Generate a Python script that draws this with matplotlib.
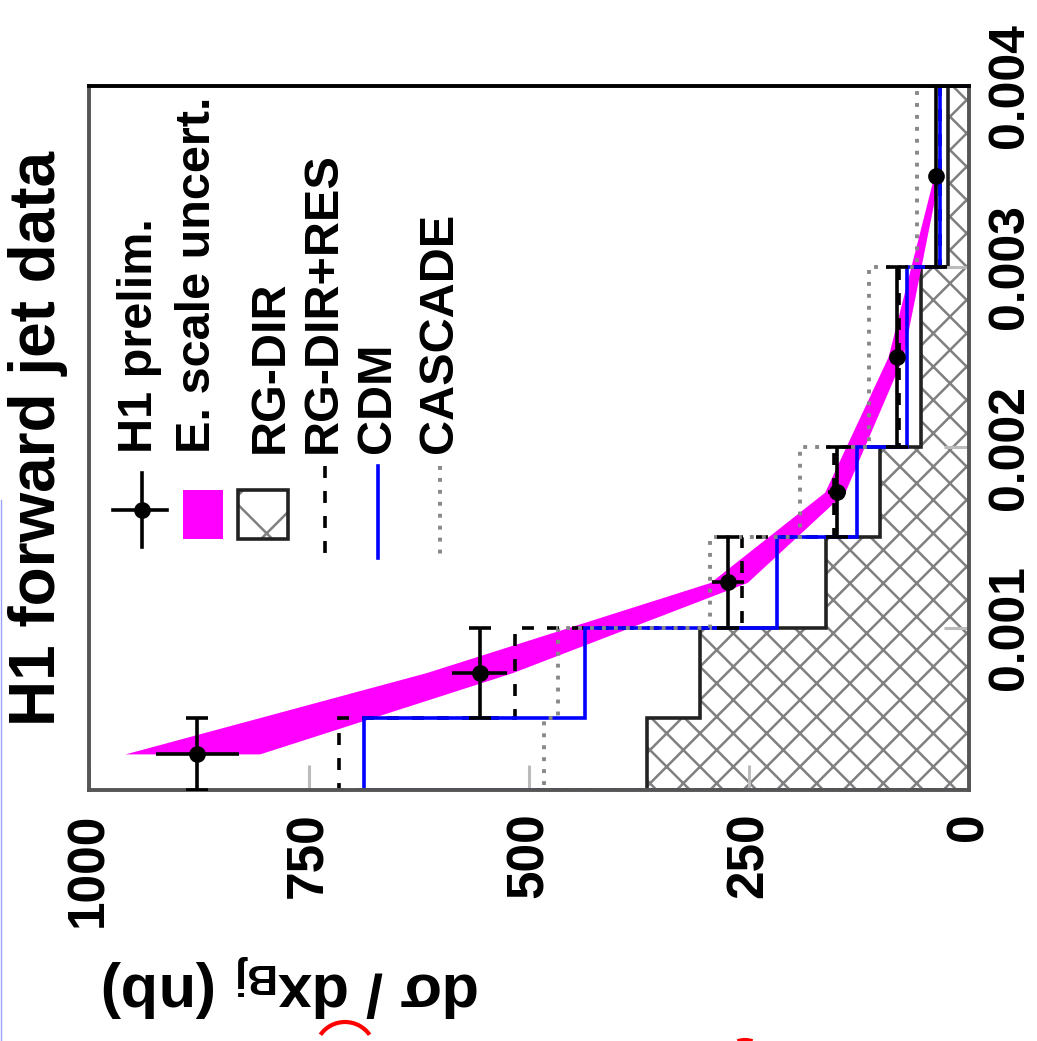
import matplotlib
matplotlib.use("Agg")
import matplotlib.pyplot as plt
from matplotlib.patches import Rectangle, Arc
from matplotlib.lines import Line2D
import numpy as np

plt.rcParams['font.family'] = ['Liberation Sans', 'DejaVu Sans']
plt.rcParams['font.weight'] = 'bold'
plt.rcParams['mathtext.fontset'] = 'custom'
plt.rcParams['mathtext.rm'] = 'Liberation Sans:bold'
plt.rcParams['mathtext.it'] = 'Liberation Sans:bold'
plt.rcParams['mathtext.bf'] = 'Liberation Sans:bold'
plt.rcParams['hatch.linewidth'] = 0.9
plt.rcParams['lines.scale_dashes'] = False

# x_Bj binning (drawn on the vertical axis, the chart is turned on its side)
xbj_edges = [0.0001, 0.0005, 0.001, 0.0015, 0.002, 0.003, 0.004]
xbj_centers = [0.0003, 0.00075, 0.00125, 0.00175, 0.0025, 0.0035]

# dsigma/dx_Bj in nb
h1_data = [877, 556, 274, 150, 82, 37]
h1_stat = [47, 31, 18, 10, 6, 4]
escale_lo = [806, 519, 252, 141, 75, 34]
escale_hi = [959, 617, 294, 164, 92, 40]
rg_dir = [366, 306, 163, 101, 55, 24]
rg_dir_res = [716, 516, 258, 153, 80, 33]
cdm = [688, 436, 218, 127, 70, 33]
cascade = [483, 467, 294, 192, 114, 59]

dsig_ticks = [0, 250, 500, 750, 1000]
dsig_ticklabels = ["0", "250", "500", "750", "1000"]
xbj_ticks = [0.001, 0.002, 0.003, 0.004]
xbj_ticklabels = ["0.001", "0.002", "0.003", "0.004"]

legend_labels = ["H1 prelim.", "E. scale uncert.", "RG-DIR", "RG-DIR+RES", "CDM", "CASCADE"]

W, H = 1037, 1041
fig = plt.figure(figsize=(W / 200, H / 200), dpi=200)


def fx(px):
    return px / W


def fy(py):
    return 1 - py / H


ax = fig.add_axes([fx(89), fy(790), fx(969) - fx(89), fy(86) - fy(790)])
ax.set_xlim(1000, 0)
ax.set_ylim(xbj_edges[0], xbj_edges[-1])

# RG-DIR: hatched histogram + outline
ax.stairs(rg_dir, xbj_edges, orientation='horizontal', fill=True, facecolor='white',
          edgecolor='#808080', hatch='xx', linewidth=0, zorder=1)
ax.stairs(rg_dir, xbj_edges, orientation='horizontal', color='#222222', lw=1.3, zorder=1.5)

# energy scale uncertainty band
ax.fill_betweenx(xbj_centers, escale_lo, escale_hi, color='#ff00ff', lw=0, zorder=1.8)

# model curves
ax.stairs(rg_dir_res, xbj_edges, orientation='horizontal', color='black', lw=1.3,
          linestyle=(0, (4.3, 4.7)), zorder=2.2)
ax.stairs(cdm, xbj_edges, orientation='horizontal', color='#0000ff', lw=1.3, zorder=2.2)
ax.stairs(cascade, xbj_edges, orientation='horizontal', color='#888888', lw=1.4,
          linestyle=(0, (1.4, 2.9)), zorder=2.2)

# data points
half_w = np.diff(xbj_edges) / 2
ax.errorbar(h1_data, xbj_centers, yerr=half_w, fmt='none', ecolor='black',
            elinewidth=1.3, capsize=4, capthick=1.3, zorder=3)
ax.errorbar(h1_data, xbj_centers, xerr=h1_stat, fmt='o', color='black', ms=5,
            elinewidth=1.3, capsize=0, zorder=3)

# axes / ticks
ax.set_xticks(dsig_ticks)
ax.set_xticklabels(dsig_ticklabels)
ax.tick_params(axis='x', direction='in', length=9, width=1.1, color='#bbbbbb',
               labelsize=18.5, labelrotation=90, pad=8, top=False)
ax.yaxis.tick_right()
ax.set_yticks(xbj_ticks)
ax.set_yticklabels(xbj_ticklabels)
ax.tick_params(axis='y', direction='in', length=9, width=1.1, color='#bbbbbb',
               labelsize=18, labelrotation=90, pad=6.5, left=False, right=True)
for lab in ax.get_yticklabels():
    lab.set_ha('left')
    lab.set_va('center')
for s in ax.spines.values():
    s.set_linewidth(1.4)
    s.set_color('#555555')
ax.spines['top'].set_color('black')

# texts
fig.text(fx(8), fy(726), "H1 forward jet data", rotation=90, ha='left', va='bottom',
         fontsize=23, fontweight='bold')
fig.text(fx(291), fy(985), "dσ / dx$_{Bj}$ (nb)", rotation=180, ha='center', va='center',
         fontsize=22, fontweight='bold')

# legend (rotated, built by hand)
text_x = [140, 198, 270, 323, 377, 440]
for tx, lab in zip(text_x, legend_labels):
    fig.text(fx(tx), fy(453), lab, rotation=90, ha='center', va='bottom', fontsize=17.5,
             fontweight='bold', zorder=5)

fig.add_artist(Line2D([fx(113), fx(167)], [fy(510), fy(510)], color='black', lw=1.3, zorder=5))
fig.add_artist(Line2D([fx(142), fx(142)], [fy(473), fy(547)], color='black', lw=1.3, zorder=5))
fig.add_artist(Line2D([fx(142)], [fy(510)], marker='o', ms=5, color='black', zorder=5))
fig.add_artist(Rectangle((fx(183), fy(539)), fx(223) - fx(183), fy(490) - fy(539),
                         transform=fig.transFigure, facecolor='#ff00ff', lw=0, zorder=5))
fig.add_artist(Rectangle((fx(238), fy(539)), fx(288) - fx(238), fy(490) - fy(539),
                         transform=fig.transFigure, facecolor='white', edgecolor='#808080',
                         hatch='x', lw=0, zorder=5))
fig.add_artist(Rectangle((fx(238), fy(539)), fx(288) - fx(238), fy(490) - fy(539),
                         transform=fig.transFigure, fill=False, edgecolor='#222222',
                         lw=1.3, zorder=5))
fig.add_artist(Line2D([fx(325), fx(325)], [fy(466), fy(558)], color='black', lw=1.3,
                      linestyle=(0, (4.3, 4.7)), zorder=5))
fig.add_artist(Line2D([fx(378), fx(378)], [fy(466), fy(558)], color='#0000ff', lw=1.3, zorder=5))
fig.add_artist(Line2D([fx(440), fx(440)], [fy(466), fy(558)], color='#888888', lw=1.4,
                      linestyle=(0, (1.4, 2.9)), zorder=5))

# scan artefacts at the page edges
fig.add_artist(Line2D([fx(0.6), fx(0.6)], [fy(500), fy(1041)], color='#a0a0ff', lw=0.5))
fig.add_artist(Arc((fx(345), fy(1052)), 60 / W, 60 / H, theta1=35, theta2=145,
                   transform=fig.transFigure, color='red', lw=1.5))
fig.add_artist(Arc((fx(745), fy(1062)), 44 / W, 44 / H, theta1=70, theta2=110,
                   transform=fig.transFigure, color='red', lw=1.5))

fig.savefig("out.png", dpi=200)
